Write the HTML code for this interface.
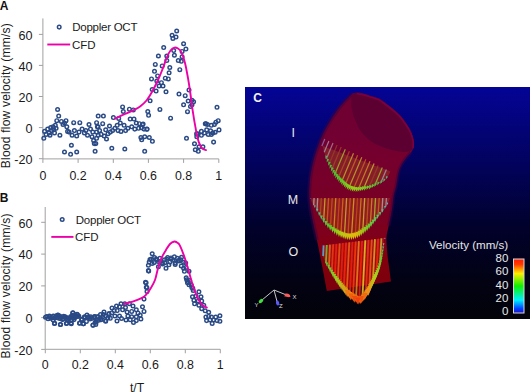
<!DOCTYPE html>
<html><head><meta charset="utf-8"><style>
html,body{margin:0;padding:0;background:#fff;}
svg{display:block;font-family:"Liberation Sans",sans-serif;}
</style></head><body>
<svg width="530" height="392" viewBox="0 0 530 392">
<rect width="530" height="392" fill="#fff"/>
<text x="-0.2" y="10.2" font-weight="bold" font-size="12" fill="#111">A</text>
<text transform="translate(9.6 95.6) rotate(-90)" text-anchor="middle" font-size="12" letter-spacing="0.22" fill="#1a1a1a">Blood flow velocity (mm/s)</text>
<path d="M42.9 18.4 V158.9 H218.8" fill="none" stroke="#a0a0a0" stroke-width="1"/>
<path d="M38.9 34.4 H42.9" stroke="#a0a0a0" stroke-width="1"/>
<text x="32.4" y="39.6" text-anchor="end" font-size="12.6" fill="#1a1a1a">60</text>
<path d="M38.9 65.4 H42.9" stroke="#a0a0a0" stroke-width="1"/>
<text x="32.4" y="70.6" text-anchor="end" font-size="12.6" fill="#1a1a1a">40</text>
<path d="M38.9 96.5 H42.9" stroke="#a0a0a0" stroke-width="1"/>
<text x="32.4" y="101.7" text-anchor="end" font-size="12.6" fill="#1a1a1a">20</text>
<path d="M38.9 127.6 H42.9" stroke="#a0a0a0" stroke-width="1"/>
<text x="32.4" y="132.8" text-anchor="end" font-size="12.6" fill="#1a1a1a">0</text>
<path d="M38.9 158.7 H42.9" stroke="#a0a0a0" stroke-width="1"/>
<text x="32.4" y="163.9" text-anchor="end" font-size="12.6" fill="#1a1a1a">-20</text>
<path d="M42.9 158.9 V162.9" stroke="#a0a0a0" stroke-width="1"/>
<text x="42.9" y="180.2" text-anchor="middle" font-size="12.4" fill="#1a1a1a">0</text>
<path d="M78.1 158.9 V162.9" stroke="#a0a0a0" stroke-width="1"/>
<text x="78.1" y="180.2" text-anchor="middle" font-size="12.4" fill="#1a1a1a">0.2</text>
<path d="M113.3 158.9 V162.9" stroke="#a0a0a0" stroke-width="1"/>
<text x="113.3" y="180.2" text-anchor="middle" font-size="12.4" fill="#1a1a1a">0.4</text>
<path d="M148.4 158.9 V162.9" stroke="#a0a0a0" stroke-width="1"/>
<text x="148.4" y="180.2" text-anchor="middle" font-size="12.4" fill="#1a1a1a">0.6</text>
<path d="M183.6 158.9 V162.9" stroke="#a0a0a0" stroke-width="1"/>
<text x="183.6" y="180.2" text-anchor="middle" font-size="12.4" fill="#1a1a1a">0.8</text>
<path d="M218.8 158.9 V162.9" stroke="#a0a0a0" stroke-width="1"/>
<text x="218.8" y="180.2" text-anchor="middle" font-size="12.4" fill="#1a1a1a">1</text>
<g fill="none" stroke="#2a4a86" stroke-width="1.45">
<circle cx="57.6" cy="109.5" r="1.8"/>
<circle cx="58.7" cy="116.1" r="1.8"/>
<circle cx="56.8" cy="120.7" r="1.8"/>
<circle cx="43.8" cy="138.3" r="1.8"/>
<circle cx="44.6" cy="131.4" r="1.8"/>
<circle cx="46.1" cy="134.4" r="1.8"/>
<circle cx="47.7" cy="129.1" r="1.8"/>
<circle cx="49.2" cy="132.9" r="1.8"/>
<circle cx="50.7" cy="127.6" r="1.8"/>
<circle cx="51.5" cy="130.6" r="1.8"/>
<circle cx="50.0" cy="135.2" r="1.8"/>
<circle cx="53.0" cy="126.8" r="1.8"/>
<circle cx="53.8" cy="129.8" r="1.8"/>
<circle cx="54.5" cy="132.9" r="1.8"/>
<circle cx="55.3" cy="125.3" r="1.8"/>
<circle cx="56.1" cy="128.3" r="1.8"/>
<circle cx="59.9" cy="135.2" r="1.8"/>
<circle cx="61.4" cy="121.4" r="1.8"/>
<circle cx="63.0" cy="124.5" r="1.8"/>
<circle cx="64.5" cy="123.0" r="1.8"/>
<circle cx="66.0" cy="120.7" r="1.8"/>
<circle cx="66.8" cy="126.8" r="1.8"/>
<circle cx="67.6" cy="131.4" r="1.8"/>
<circle cx="69.1" cy="132.1" r="1.8"/>
<circle cx="71.4" cy="145.2" r="1.8"/>
<circle cx="64.5" cy="152.0" r="1.8"/>
<circle cx="70.6" cy="154.3" r="1.8"/>
<circle cx="76.7" cy="152.0" r="1.8"/>
<circle cx="73.7" cy="122.7" r="1.8"/>
<circle cx="79.8" cy="122.7" r="1.8"/>
<circle cx="72.1" cy="135.2" r="1.8"/>
<circle cx="74.4" cy="130.6" r="1.8"/>
<circle cx="76.7" cy="136.0" r="1.8"/>
<circle cx="79.0" cy="132.1" r="1.8"/>
<circle cx="82.1" cy="129.1" r="1.8"/>
<circle cx="84.4" cy="132.9" r="1.8"/>
<circle cx="85.9" cy="130.6" r="1.8"/>
<circle cx="87.5" cy="135.2" r="1.8"/>
<circle cx="89.0" cy="124.5" r="1.8"/>
<circle cx="90.5" cy="129.1" r="1.8"/>
<circle cx="92.8" cy="132.1" r="1.8"/>
<circle cx="92.0" cy="136.7" r="1.8"/>
<circle cx="93.6" cy="140.6" r="1.8"/>
<circle cx="94.3" cy="143.6" r="1.8"/>
<circle cx="95.1" cy="151.3" r="1.8"/>
<circle cx="96.6" cy="122.7" r="1.8"/>
<circle cx="98.2" cy="116.1" r="1.8"/>
<circle cx="97.4" cy="126.8" r="1.8"/>
<circle cx="98.2" cy="135.2" r="1.8"/>
<circle cx="96.6" cy="138.3" r="1.8"/>
<circle cx="103.4" cy="116.1" r="1.8"/>
<circle cx="102.7" cy="123.7" r="1.8"/>
<circle cx="98.1" cy="126.8" r="1.8"/>
<circle cx="99.6" cy="130.6" r="1.8"/>
<circle cx="96.5" cy="132.1" r="1.8"/>
<circle cx="101.1" cy="134.4" r="1.8"/>
<circle cx="105.7" cy="129.8" r="1.8"/>
<circle cx="109.5" cy="126.0" r="1.8"/>
<circle cx="104.2" cy="136.0" r="1.8"/>
<circle cx="106.5" cy="139.0" r="1.8"/>
<circle cx="95.8" cy="143.6" r="1.8"/>
<circle cx="111.8" cy="148.2" r="1.8"/>
<circle cx="124.8" cy="149.0" r="1.8"/>
<circle cx="144.7" cy="151.3" r="1.8"/>
<circle cx="108.0" cy="133.7" r="1.8"/>
<circle cx="110.3" cy="132.1" r="1.8"/>
<circle cx="112.6" cy="130.6" r="1.8"/>
<circle cx="113.4" cy="117.6" r="1.8"/>
<circle cx="114.9" cy="128.3" r="1.8"/>
<circle cx="117.2" cy="125.3" r="1.8"/>
<circle cx="118.7" cy="118.4" r="1.8"/>
<circle cx="120.3" cy="123.0" r="1.8"/>
<circle cx="118.0" cy="130.6" r="1.8"/>
<circle cx="121.0" cy="131.4" r="1.8"/>
<circle cx="122.6" cy="106.9" r="1.8"/>
<circle cx="123.3" cy="111.5" r="1.8"/>
<circle cx="124.1" cy="125.3" r="1.8"/>
<circle cx="125.6" cy="130.6" r="1.8"/>
<circle cx="127.9" cy="128.3" r="1.8"/>
<circle cx="129.4" cy="109.2" r="1.8"/>
<circle cx="133.3" cy="109.9" r="1.8"/>
<circle cx="130.2" cy="119.1" r="1.8"/>
<circle cx="134.0" cy="119.1" r="1.8"/>
<circle cx="131.7" cy="126.8" r="1.8"/>
<circle cx="134.8" cy="129.1" r="1.8"/>
<circle cx="136.3" cy="123.0" r="1.8"/>
<circle cx="139.4" cy="123.7" r="1.8"/>
<circle cx="138.6" cy="128.3" r="1.8"/>
<circle cx="142.5" cy="124.5" r="1.8"/>
<circle cx="144.0" cy="129.1" r="1.8"/>
<circle cx="147.0" cy="129.1" r="1.8"/>
<circle cx="147.8" cy="111.5" r="1.8"/>
<circle cx="148.6" cy="115.3" r="1.8"/>
<circle cx="140.9" cy="137.5" r="1.8"/>
<circle cx="141.7" cy="139.8" r="1.8"/>
<circle cx="144.7" cy="136.7" r="1.8"/>
<circle cx="149.3" cy="137.5" r="1.8"/>
<circle cx="152.4" cy="141.3" r="1.8"/>
<circle cx="150.1" cy="100.8" r="1.8"/>
<circle cx="176.7" cy="31.0" r="1.8"/>
<circle cx="172.1" cy="35.3" r="1.8"/>
<circle cx="172.9" cy="38.4" r="1.8"/>
<circle cx="176.0" cy="37.1" r="1.8"/>
<circle cx="183.6" cy="43.7" r="1.8"/>
<circle cx="185.9" cy="49.1" r="1.8"/>
<circle cx="182.1" cy="51.4" r="1.8"/>
<circle cx="163.7" cy="47.6" r="1.8"/>
<circle cx="158.4" cy="56.0" r="1.8"/>
<circle cx="166.8" cy="56.0" r="1.8"/>
<circle cx="173.7" cy="50.6" r="1.8"/>
<circle cx="174.4" cy="55.2" r="1.8"/>
<circle cx="182.1" cy="56.7" r="1.8"/>
<circle cx="178.3" cy="60.6" r="1.8"/>
<circle cx="181.3" cy="61.3" r="1.8"/>
<circle cx="166.8" cy="60.6" r="1.8"/>
<circle cx="155.3" cy="64.4" r="1.8"/>
<circle cx="162.2" cy="65.9" r="1.8"/>
<circle cx="169.8" cy="67.5" r="1.8"/>
<circle cx="179.8" cy="69.7" r="1.8"/>
<circle cx="154.5" cy="71.3" r="1.8"/>
<circle cx="169.1" cy="72.8" r="1.8"/>
<circle cx="157.6" cy="75.9" r="1.8"/>
<circle cx="151.5" cy="78.9" r="1.8"/>
<circle cx="165.3" cy="78.2" r="1.8"/>
<circle cx="168.3" cy="78.9" r="1.8"/>
<circle cx="156.8" cy="81.1" r="1.8"/>
<circle cx="161.4" cy="82.7" r="1.8"/>
<circle cx="159.1" cy="86.0" r="1.8"/>
<circle cx="163.0" cy="86.0" r="1.8"/>
<circle cx="152.2" cy="89.5" r="1.8"/>
<circle cx="156.1" cy="91.1" r="1.8"/>
<circle cx="166.0" cy="91.8" r="1.8"/>
<circle cx="159.9" cy="109.4" r="1.8"/>
<circle cx="170.6" cy="118.2" r="1.8"/>
<circle cx="179.0" cy="94.1" r="1.8"/>
<circle cx="185.2" cy="95.7" r="1.8"/>
<circle cx="189.0" cy="90.0" r="1.8"/>
<circle cx="188.2" cy="101.0" r="1.8"/>
<circle cx="192.0" cy="100.3" r="1.8"/>
<circle cx="193.6" cy="101.8" r="1.8"/>
<circle cx="183.6" cy="104.8" r="1.8"/>
<circle cx="190.5" cy="106.4" r="1.8"/>
<circle cx="192.0" cy="104.8" r="1.8"/>
<circle cx="187.5" cy="111.7" r="1.8"/>
<circle cx="143.1" cy="124.0" r="1.8"/>
<circle cx="141.5" cy="127.8" r="1.8"/>
<circle cx="146.9" cy="129.3" r="1.8"/>
<circle cx="196.6" cy="133.9" r="1.8"/>
<circle cx="186.5" cy="138.3" r="1.8"/>
<circle cx="194.5" cy="143.7" r="1.8"/>
<circle cx="196.8" cy="136.8" r="1.8"/>
<circle cx="197.6" cy="133.7" r="1.8"/>
<circle cx="201.4" cy="135.3" r="1.8"/>
<circle cx="199.1" cy="146.7" r="1.8"/>
<circle cx="202.9" cy="146.7" r="1.8"/>
<circle cx="195.3" cy="149.8" r="1.8"/>
<circle cx="198.3" cy="151.3" r="1.8"/>
<circle cx="201.4" cy="131.4" r="1.8"/>
<circle cx="204.4" cy="133.0" r="1.8"/>
<circle cx="206.0" cy="123.8" r="1.8"/>
<circle cx="207.5" cy="124.5" r="1.8"/>
<circle cx="211.3" cy="125.3" r="1.8"/>
<circle cx="214.4" cy="124.5" r="1.8"/>
<circle cx="215.9" cy="122.2" r="1.8"/>
<circle cx="218.2" cy="120.7" r="1.8"/>
<circle cx="206.7" cy="129.9" r="1.8"/>
<circle cx="210.6" cy="130.7" r="1.8"/>
<circle cx="212.9" cy="133.0" r="1.8"/>
<circle cx="215.2" cy="132.2" r="1.8"/>
<circle cx="219.0" cy="129.9" r="1.8"/>
<circle cx="208.3" cy="134.5" r="1.8"/>
<circle cx="211.3" cy="134.5" r="1.8"/>
<circle cx="213.6" cy="142.1" r="1.8"/>
<circle cx="217.0" cy="107.3" r="1.8"/>
<circle cx="205.3" cy="123.7" r="1.8"/>
</g>
<path d="M115.0 118.6 C116.7 117.8 121.7 115.5 125.0 114.0 C128.3 112.5 132.5 110.8 135.0 109.5 C137.5 108.2 138.1 108.0 140.0 106.5 C141.9 105.0 144.4 103.1 146.5 100.5 C148.6 97.9 150.6 94.4 152.5 91.0 C154.4 87.6 156.3 83.7 158.0 80.0 C159.7 76.3 161.1 72.8 162.6 69.0 C164.1 65.2 165.5 60.6 166.8 57.5 C168.1 54.4 169.2 52.1 170.5 50.5 C171.8 48.9 173.2 47.9 174.4 47.6 C175.7 47.3 176.8 47.8 178.0 48.5 C179.2 49.2 180.1 49.7 181.3 52.1 C182.5 54.5 183.9 58.5 185.0 62.9 C186.1 67.2 187.2 73.7 188.0 78.2 C188.8 82.7 189.1 84.7 189.9 90.0 C190.7 95.3 191.6 103.3 192.6 110.2 C193.6 117.1 195.2 126.1 196.2 131.4 C197.2 136.7 197.8 139.3 198.8 142.1 C199.8 144.9 200.9 147.0 202.1 148.3 C203.3 149.6 205.3 149.8 206.0 150.1" fill="none" stroke="#ec00a8" stroke-width="1.9" stroke-linecap="round"/>
<circle cx="59.2" cy="27.1" r="1.8" fill="none" stroke="#2a4a86" stroke-width="1.45"/>
<text x="72.2" y="31.1" font-size="11.5" letter-spacing="-0.25" fill="#1a1a1a">Doppler OCT</text>
<path d="M47.3 44.5 H70.2" stroke="#ec00a8" stroke-width="1.9"/>
<text x="72.0" y="48.5" font-size="11.5" letter-spacing="-0.1" fill="#1a1a1a">CFD</text>
<text x="-0.2" y="202.3" font-weight="bold" font-size="12" fill="#111">B</text>
<text transform="translate(9.6 285.9) rotate(-90)" text-anchor="middle" font-size="12" letter-spacing="0.22" fill="#1a1a1a">Blood flow velocity (mm/s)</text>
<path d="M45.2 207.0 V349.3 H220.3" fill="none" stroke="#a0a0a0" stroke-width="1"/>
<path d="M41.2 222.3 H45.2" stroke="#a0a0a0" stroke-width="1"/>
<text x="32.4" y="227.5" text-anchor="end" font-size="12.6" fill="#1a1a1a">60</text>
<path d="M41.2 254.1 H45.2" stroke="#a0a0a0" stroke-width="1"/>
<text x="32.4" y="259.3" text-anchor="end" font-size="12.6" fill="#1a1a1a">40</text>
<path d="M41.2 285.9 H45.2" stroke="#a0a0a0" stroke-width="1"/>
<text x="32.4" y="291.1" text-anchor="end" font-size="12.6" fill="#1a1a1a">20</text>
<path d="M41.2 317.6 H45.2" stroke="#a0a0a0" stroke-width="1"/>
<text x="32.4" y="322.8" text-anchor="end" font-size="12.6" fill="#1a1a1a">0</text>
<path d="M41.2 349.4 H45.2" stroke="#a0a0a0" stroke-width="1"/>
<text x="32.4" y="354.6" text-anchor="end" font-size="12.6" fill="#1a1a1a">-20</text>
<path d="M45.3 349.3 V353.3" stroke="#a0a0a0" stroke-width="1"/>
<text x="45.3" y="368.5" text-anchor="middle" font-size="12.4" fill="#1a1a1a">0</text>
<path d="M80.3 349.3 V353.3" stroke="#a0a0a0" stroke-width="1"/>
<text x="80.3" y="368.5" text-anchor="middle" font-size="12.4" fill="#1a1a1a">0.2</text>
<path d="M115.3 349.3 V353.3" stroke="#a0a0a0" stroke-width="1"/>
<text x="115.3" y="368.5" text-anchor="middle" font-size="12.4" fill="#1a1a1a">0.4</text>
<path d="M150.3 349.3 V353.3" stroke="#a0a0a0" stroke-width="1"/>
<text x="150.3" y="368.5" text-anchor="middle" font-size="12.4" fill="#1a1a1a">0.6</text>
<path d="M185.3 349.3 V353.3" stroke="#a0a0a0" stroke-width="1"/>
<text x="185.3" y="368.5" text-anchor="middle" font-size="12.4" fill="#1a1a1a">0.8</text>
<path d="M220.3 349.3 V353.3" stroke="#a0a0a0" stroke-width="1"/>
<text x="220.3" y="368.5" text-anchor="middle" font-size="12.4" fill="#1a1a1a">1</text>
<g fill="none" stroke="#2a4a86" stroke-width="1.45">
<circle cx="73.0" cy="312.7" r="1.8"/>
<circle cx="77.0" cy="314.3" r="1.8"/>
<circle cx="57.9" cy="314.9" r="1.8"/>
<circle cx="54.7" cy="323.2" r="1.8"/>
<circle cx="60.4" cy="324.5" r="1.8"/>
<circle cx="66.8" cy="323.2" r="1.8"/>
<circle cx="71.3" cy="323.8" r="1.8"/>
<circle cx="79.6" cy="323.2" r="1.8"/>
<circle cx="83.4" cy="323.8" r="1.8"/>
<circle cx="93.0" cy="325.1" r="1.8"/>
<circle cx="96.2" cy="322.0" r="1.8"/>
<circle cx="94.9" cy="316.8" r="1.8"/>
<circle cx="84.7" cy="316.8" r="1.8"/>
<circle cx="145.5" cy="282.3" r="1.8"/>
<circle cx="146.3" cy="287.3" r="1.8"/>
<circle cx="147.0" cy="291.5" r="1.8"/>
<circle cx="144.0" cy="299.1" r="1.8"/>
<circle cx="142.5" cy="306.8" r="1.8"/>
<circle cx="144.0" cy="311.4" r="1.8"/>
<circle cx="129.4" cy="303.7" r="1.8"/>
<circle cx="124.8" cy="303.7" r="1.8"/>
<circle cx="121.0" cy="303.7" r="1.8"/>
<circle cx="119.5" cy="306.8" r="1.8"/>
<circle cx="122.6" cy="309.8" r="1.8"/>
<circle cx="127.1" cy="312.1" r="1.8"/>
<circle cx="131.7" cy="311.4" r="1.8"/>
<circle cx="136.3" cy="309.8" r="1.8"/>
<circle cx="117.2" cy="310.6" r="1.8"/>
<circle cx="114.1" cy="310.6" r="1.8"/>
<circle cx="111.8" cy="312.9" r="1.8"/>
<circle cx="119.5" cy="316.0" r="1.8"/>
<circle cx="127.9" cy="316.0" r="1.8"/>
<circle cx="131.7" cy="316.7" r="1.8"/>
<circle cx="136.3" cy="316.7" r="1.8"/>
<circle cx="140.2" cy="315.2" r="1.8"/>
<circle cx="130.2" cy="319.8" r="1.8"/>
<circle cx="136.3" cy="320.6" r="1.8"/>
<circle cx="140.9" cy="319.0" r="1.8"/>
<circle cx="108.8" cy="314.4" r="1.8"/>
<circle cx="105.7" cy="316.0" r="1.8"/>
<circle cx="102.7" cy="316.7" r="1.8"/>
<circle cx="98.1" cy="316.7" r="1.8"/>
<circle cx="96.5" cy="319.8" r="1.8"/>
<circle cx="101.1" cy="319.8" r="1.8"/>
<circle cx="105.7" cy="321.3" r="1.8"/>
<circle cx="110.3" cy="318.3" r="1.8"/>
<circle cx="114.9" cy="316.0" r="1.8"/>
<circle cx="95.8" cy="324.4" r="1.8"/>
<circle cx="148.7" cy="271.1" r="1.8"/>
<circle cx="152.2" cy="253.7" r="1.8"/>
<circle cx="148.4" cy="270.6" r="1.8"/>
<circle cx="148.4" cy="265.2" r="1.8"/>
<circle cx="149.2" cy="262.1" r="1.8"/>
<circle cx="151.5" cy="259.1" r="1.8"/>
<circle cx="154.5" cy="257.6" r="1.8"/>
<circle cx="156.8" cy="259.8" r="1.8"/>
<circle cx="158.4" cy="266.7" r="1.8"/>
<circle cx="159.9" cy="258.3" r="1.8"/>
<circle cx="162.2" cy="262.9" r="1.8"/>
<circle cx="164.5" cy="259.8" r="1.8"/>
<circle cx="166.0" cy="268.3" r="1.8"/>
<circle cx="167.6" cy="257.6" r="1.8"/>
<circle cx="169.8" cy="262.1" r="1.8"/>
<circle cx="171.4" cy="259.1" r="1.8"/>
<circle cx="174.4" cy="256.8" r="1.8"/>
<circle cx="175.2" cy="264.4" r="1.8"/>
<circle cx="178.3" cy="260.6" r="1.8"/>
<circle cx="180.6" cy="259.8" r="1.8"/>
<circle cx="181.3" cy="266.0" r="1.8"/>
<circle cx="183.6" cy="268.3" r="1.8"/>
<circle cx="184.4" cy="271.3" r="1.8"/>
<circle cx="185.9" cy="267.5" r="1.8"/>
<circle cx="189.0" cy="271.3" r="1.8"/>
<circle cx="146.1" cy="282.8" r="1.8"/>
<circle cx="146.9" cy="287.4" r="1.8"/>
<circle cx="186.7" cy="279.7" r="1.8"/>
<circle cx="187.5" cy="282.8" r="1.8"/>
<circle cx="189.7" cy="280.5" r="1.8"/>
<circle cx="191.3" cy="285.1" r="1.8"/>
<circle cx="192.8" cy="288.2" r="1.8"/>
<circle cx="186.2" cy="277.8" r="1.8"/>
<circle cx="187.6" cy="281.3" r="1.8"/>
<circle cx="189.0" cy="284.8" r="1.8"/>
<circle cx="191.8" cy="287.6" r="1.8"/>
<circle cx="193.2" cy="290.4" r="1.8"/>
<circle cx="198.9" cy="291.8" r="1.8"/>
<circle cx="192.5" cy="296.7" r="1.8"/>
<circle cx="196.0" cy="296.0" r="1.8"/>
<circle cx="201.0" cy="296.7" r="1.8"/>
<circle cx="193.9" cy="300.3" r="1.8"/>
<circle cx="198.2" cy="301.0" r="1.8"/>
<circle cx="201.7" cy="301.0" r="1.8"/>
<circle cx="194.6" cy="303.8" r="1.8"/>
<circle cx="198.9" cy="305.2" r="1.8"/>
<circle cx="203.8" cy="305.2" r="1.8"/>
<circle cx="201.7" cy="308.7" r="1.8"/>
<circle cx="205.2" cy="310.8" r="1.8"/>
<circle cx="208.7" cy="312.2" r="1.8"/>
<circle cx="205.9" cy="317.1" r="1.8"/>
<circle cx="208.7" cy="316.4" r="1.8"/>
<circle cx="211.5" cy="317.1" r="1.8"/>
<circle cx="215.7" cy="317.1" r="1.8"/>
<circle cx="219.9" cy="315.7" r="1.8"/>
<circle cx="206.6" cy="320.6" r="1.8"/>
<circle cx="210.1" cy="319.9" r="1.8"/>
<circle cx="213.6" cy="319.9" r="1.8"/>
<circle cx="217.1" cy="320.6" r="1.8"/>
<circle cx="212.2" cy="323.4" r="1.8"/>
<circle cx="219.9" cy="321.3" r="1.8"/>
<circle cx="72.7" cy="313.0" r="1.8"/>
<circle cx="77.3" cy="314.5" r="1.8"/>
<circle cx="70.8" cy="316.4" r="1.8"/>
<circle cx="74.2" cy="318.0" r="1.8"/>
<circle cx="71.1" cy="323.0" r="1.8"/>
<circle cx="79.6" cy="323.0" r="1.8"/>
<circle cx="83.4" cy="323.7" r="1.8"/>
<circle cx="81.5" cy="319.9" r="1.8"/>
<circle cx="84.2" cy="317.2" r="1.8"/>
<circle cx="88.4" cy="317.6" r="1.8"/>
<circle cx="93.0" cy="325.2" r="1.8"/>
<circle cx="95.2" cy="322.2" r="1.8"/>
<circle cx="94.5" cy="316.4" r="1.8"/>
<circle cx="97.2" cy="316.8" r="1.8"/>
<circle cx="98.7" cy="320.3" r="1.8"/>
<circle cx="103.3" cy="314.5" r="1.8"/>
<circle cx="100.6" cy="318.4" r="1.8"/>
<circle cx="105.6" cy="320.7" r="1.8"/>
<circle cx="107.9" cy="318.0" r="1.8"/>
<circle cx="109.0" cy="313.4" r="1.8"/>
<circle cx="90.7" cy="316.8" r="1.8"/>
<circle cx="86.4" cy="321.4" r="1.8"/>
<circle cx="54.4" cy="323.5" r="1.8"/>
<circle cx="60.5" cy="324.5" r="1.8"/>
<circle cx="66.3" cy="323.5" r="1.8"/>
<circle cx="58.0" cy="315.2" r="1.8"/>
<circle cx="45.5" cy="317.2" r="1.8"/>
<circle cx="46.8" cy="316.4" r="1.8"/>
<circle cx="48.1" cy="318.7" r="1.8"/>
<circle cx="49.4" cy="316.0" r="1.8"/>
<circle cx="50.7" cy="318.2" r="1.8"/>
<circle cx="52.0" cy="317.4" r="1.8"/>
<circle cx="53.3" cy="316.0" r="1.8"/>
<circle cx="54.6" cy="318.0" r="1.8"/>
<circle cx="55.9" cy="315.9" r="1.8"/>
<circle cx="57.2" cy="317.7" r="1.8"/>
<circle cx="58.5" cy="316.0" r="1.8"/>
<circle cx="59.8" cy="316.1" r="1.8"/>
<circle cx="61.1" cy="317.7" r="1.8"/>
<circle cx="62.4" cy="319.5" r="1.8"/>
<circle cx="63.7" cy="316.3" r="1.8"/>
<circle cx="65.0" cy="316.7" r="1.8"/>
<circle cx="66.3" cy="318.6" r="1.8"/>
<circle cx="67.6" cy="320.1" r="1.8"/>
<circle cx="68.9" cy="318.4" r="1.8"/>
<circle cx="70.2" cy="317.5" r="1.8"/>
<circle cx="71.5" cy="320.2" r="1.8"/>
<circle cx="72.8" cy="315.9" r="1.8"/>
<circle cx="74.1" cy="319.6" r="1.8"/>
<circle cx="75.4" cy="317.0" r="1.8"/>
<circle cx="76.7" cy="316.4" r="1.8"/>
<circle cx="78.0" cy="316.2" r="1.8"/>
<circle cx="50.0" cy="316.8" r="1.8"/>
<circle cx="53.2" cy="320.0" r="1.8"/>
<circle cx="56.4" cy="316.0" r="1.8"/>
<circle cx="59.6" cy="318.5" r="1.8"/>
<circle cx="62.8" cy="318.9" r="1.8"/>
<circle cx="66.0" cy="317.2" r="1.8"/>
<circle cx="69.2" cy="318.3" r="1.8"/>
<circle cx="72.4" cy="315.2" r="1.8"/>
<circle cx="75.6" cy="315.2" r="1.8"/>
<circle cx="78.8" cy="316.1" r="1.8"/>
<circle cx="82.0" cy="319.2" r="1.8"/>
<circle cx="85.2" cy="317.5" r="1.8"/>
<circle cx="88.4" cy="316.8" r="1.8"/>
<circle cx="91.6" cy="318.5" r="1.8"/>
<circle cx="94.8" cy="317.7" r="1.8"/>
<circle cx="112.0" cy="308.0" r="1.8"/>
<circle cx="116.5" cy="306.0" r="1.8"/>
<circle cx="125.5" cy="307.5" r="1.8"/>
<circle cx="133.0" cy="306.0" r="1.8"/>
<circle cx="138.0" cy="313.0" r="1.8"/>
<circle cx="126.0" cy="320.0" r="1.8"/>
<circle cx="121.5" cy="318.5" r="1.8"/>
<circle cx="117.0" cy="321.0" r="1.8"/>
<circle cx="133.5" cy="322.5" r="1.8"/>
<circle cx="104.0" cy="312.0" r="1.8"/>
<circle cx="100.5" cy="314.5" r="1.8"/>
<circle cx="90.0" cy="319.0" r="1.8"/>
<circle cx="87.0" cy="315.0" r="1.8"/>
<circle cx="150.0" cy="259.4" r="1.8"/>
<circle cx="152.1" cy="263.4" r="1.8"/>
<circle cx="154.2" cy="262.6" r="1.8"/>
<circle cx="156.3" cy="259.0" r="1.8"/>
<circle cx="158.4" cy="261.6" r="1.8"/>
<circle cx="160.5" cy="261.2" r="1.8"/>
<circle cx="162.6" cy="264.0" r="1.8"/>
<circle cx="164.7" cy="262.8" r="1.8"/>
<circle cx="166.8" cy="259.3" r="1.8"/>
<circle cx="168.9" cy="264.8" r="1.8"/>
<circle cx="171.0" cy="257.9" r="1.8"/>
<circle cx="173.1" cy="260.3" r="1.8"/>
<circle cx="175.2" cy="263.1" r="1.8"/>
<circle cx="177.3" cy="258.2" r="1.8"/>
<circle cx="179.4" cy="260.9" r="1.8"/>
<circle cx="181.5" cy="257.3" r="1.8"/>
<circle cx="183.6" cy="262.3" r="1.8"/>
<circle cx="185.7" cy="263.1" r="1.8"/>
</g>
<path d="M124.0 304.0 C125.5 303.6 130.5 302.3 133.3 301.4 C136.1 300.5 138.9 299.4 140.9 298.4 C142.9 297.4 144.0 296.8 145.5 295.3 C147.0 293.8 148.5 291.8 150.1 289.2 C151.7 286.6 153.6 283.8 155.0 280.0 C156.4 276.2 157.2 270.5 158.4 266.7 C159.6 262.9 160.7 259.8 162.0 257.0 C163.3 254.2 164.7 252.1 166.0 249.9 C167.3 247.7 168.6 245.4 170.0 244.0 C171.4 242.6 173.2 241.8 174.4 241.5 C175.6 241.2 176.1 241.9 177.0 242.5 C177.9 243.1 178.5 242.7 179.8 245.3 C181.1 247.9 183.4 253.9 184.8 258.0 C186.2 262.1 187.0 265.3 188.4 270.0 C189.8 274.7 191.4 281.2 193.0 286.0 C194.6 290.8 196.6 295.8 198.2 299.0 C199.8 302.2 200.9 303.6 202.3 305.0 C203.7 306.4 206.1 307.2 206.8 307.6" fill="none" stroke="#ec00a8" stroke-width="1.9" stroke-linecap="round"/>
<circle cx="62.2" cy="219.5" r="1.8" fill="none" stroke="#2a4a86" stroke-width="1.45"/>
<text x="75.8" y="223.5" font-size="11.5" letter-spacing="-0.25" fill="#1a1a1a">Doppler OCT</text>
<path d="M51.3 236.9 H73.5" stroke="#ec00a8" stroke-width="1.9"/>
<text x="75.1" y="240.9" font-size="11.5" letter-spacing="-0.1" fill="#1a1a1a">CFD</text>
<text x="129.9" y="391.8" font-size="12.2" fill="#1a1a1a">t/T</text>
<defs>
<linearGradient id="bg" x1="0" y1="0" x2="0" y2="1">
<stop offset="0" stop-color="#040496"/>
<stop offset="0.35" stop-color="#02025a"/>
<stop offset="0.6" stop-color="#01012c"/>
<stop offset="0.85" stop-color="#020212"/>
<stop offset="1" stop-color="#03030a"/>
</linearGradient>
<linearGradient id="cbar" x1="0" y1="0" x2="0" y2="1">
<stop offset="0" stop-color="#ff1a00"/>
<stop offset="0.1" stop-color="#ff3a00"/>
<stop offset="0.27" stop-color="#fff000"/>
<stop offset="0.5" stop-color="#10f000"/>
<stop offset="0.76" stop-color="#00f0ff"/>
<stop offset="0.92" stop-color="#0040ff"/>
<stop offset="1" stop-color="#2010c8"/>
</linearGradient>
<linearGradient id="tube" x1="0" y1="0" x2="1" y2="0">
<stop offset="0" stop-color="#9a0c3c"/>
<stop offset="0.2" stop-color="#a8103c"/>
<stop offset="1" stop-color="#8a0834"/>
</linearGradient>
</defs>
<rect x="245" y="87" width="285" height="232" fill="url(#bg)"/>
<filter id="soft" x="-5%" y="-5%" width="110%" height="110%"><feGaussianBlur stdDeviation="0.45"/></filter>
<g filter="url(#soft)">
<linearGradient id="tubeg" gradientUnits="userSpaceOnUse" x1="0" y1="90" x2="0" y2="290"><stop offset="0" stop-color="#6e0034"/><stop offset="0.35" stop-color="#74002e"/><stop offset="0.65" stop-color="#7a0022"/><stop offset="0.8" stop-color="#840012"/><stop offset="1" stop-color="#7c000c"/></linearGradient>
<path d="M352.5 93.6 C353.4 93.5 355.6 92.8 357.6 92.8 C359.6 92.8 361.9 93.3 364.4 93.9 C366.9 94.5 370.0 95.7 372.4 96.5 C374.8 97.3 376.7 97.4 379.0 98.6 C381.3 99.8 383.2 101.4 386.0 103.5 C388.8 105.6 393.1 109.0 395.7 111.2 C398.3 113.5 399.7 114.9 401.5 117.0 C403.3 119.1 405.0 121.6 406.4 123.7 C407.8 125.8 408.9 127.4 410.0 129.5 C411.1 131.6 412.1 134.1 412.7 136.2 C413.3 138.3 413.8 140.1 413.9 142.0 C414.0 143.9 414.1 145.8 413.6 147.5 C413.1 149.2 412.2 150.8 411.0 152.5 C409.8 154.2 408.1 155.4 406.5 157.5 C404.9 159.6 402.8 162.3 401.4 164.9 C400.0 167.5 399.2 169.7 398.4 173.1 C397.5 176.5 397.1 181.5 396.3 185.3 C395.5 189.1 394.4 191.8 393.6 196.0 C392.9 200.2 392.6 205.4 391.8 210.3 C391.0 215.2 389.7 221.0 388.8 225.6 C387.9 230.2 386.7 233.1 386.5 238.0 C386.3 242.9 387.1 250.0 387.5 255.0 C387.9 260.0 388.6 263.6 389.2 268.0 C389.8 272.4 390.7 279.2 391.0 281.5 L326.8 291.0 C326.6 289.6 325.9 286.3 325.3 282.9 C324.7 279.5 323.9 275.2 323.0 270.6 C322.1 266.0 321.0 260.4 320.0 255.3 C319.0 250.2 317.9 244.9 316.9 240.0 C315.9 235.1 314.8 230.9 313.8 226.0 C312.8 221.1 311.5 215.7 310.7 210.6 C309.9 205.5 309.3 200.4 309.2 195.3 C309.1 190.2 309.6 184.6 310.0 180.0 C310.4 175.4 311.1 171.8 311.8 168.0 C312.6 164.2 313.4 160.8 314.5 157.0 C315.6 153.2 317.1 148.8 318.5 145.0 C319.9 141.2 321.2 137.8 323.0 134.0 C324.8 130.2 327.2 125.8 329.5 122.0 C331.8 118.2 334.4 114.3 336.8 111.0 C339.2 107.7 342.0 104.3 344.0 102.0 C346.0 99.7 347.6 98.4 349.0 97.0 C350.4 95.6 351.9 94.2 352.5 93.6 Z" fill="url(#tubeg)"/>
<path d="M316.9 240.0 C316.4 237.7 314.8 230.9 313.8 226.0 C312.8 221.1 311.5 215.7 310.7 210.6 C309.9 205.5 309.3 200.4 309.2 195.3 C309.1 190.2 309.6 184.6 310.0 180.0 C310.4 175.4 311.1 171.8 311.8 168.0 C312.6 164.2 313.4 160.8 314.5 157.0 C315.6 153.2 317.1 148.8 318.5 145.0 C319.9 141.2 321.2 137.8 323.0 134.0 C324.8 130.2 327.2 125.8 329.5 122.0 C331.8 118.2 334.4 114.3 336.8 111.0 C339.2 107.7 342.0 104.3 344.0 102.0 C346.0 99.7 347.6 98.4 349.0 97.0 C350.4 95.6 351.9 94.2 352.5 93.6" fill="none" stroke="#3a0040" stroke-width="4" stroke-opacity="0.5"/>
<path d="M411.0 152.5 C410.2 153.3 408.1 155.4 406.5 157.5 C404.9 159.6 402.8 162.3 401.4 164.9 C400.0 167.5 399.2 169.7 398.4 173.1 C397.5 176.5 397.1 181.5 396.3 185.3 C395.5 189.1 394.4 191.8 393.6 196.0 C392.9 200.2 392.6 205.4 391.8 210.3 C391.0 215.2 389.3 223.1 388.8 225.6" fill="none" stroke="#3a0040" stroke-width="3.4" stroke-opacity="0.45"/>
<path d="M352.5 93.6 C353.4 93.5 355.6 92.8 357.6 92.8 C359.6 92.8 361.9 93.3 364.4 93.9 C366.9 94.5 370.0 95.7 372.4 96.5 C374.8 97.3 376.7 97.4 379.0 98.6 C381.3 99.8 383.2 101.4 386.0 103.5 C388.8 105.6 393.1 109.0 395.7 111.2 C398.3 113.5 399.7 114.9 401.5 117.0 C403.3 119.1 405.0 121.6 406.4 123.7 C407.8 125.8 408.9 127.4 410.0 129.5 C411.1 131.6 412.1 134.1 412.7 136.2 C413.3 138.3 413.8 140.1 413.9 142.0 C414.0 143.9 413.7 146.6 413.6 147.5 C413.6 148.4 413.9 147.0 413.6 147.5 C413.3 148.0 413.1 149.6 411.6 150.3 C410.1 151.1 407.7 152.1 404.5 152.0 C401.3 151.9 396.3 151.0 392.2 150.0 C388.1 149.0 383.7 147.6 380.0 146.0 C376.3 144.4 373.2 142.9 370.0 140.5 C366.8 138.1 363.4 134.8 361.0 131.5 C358.6 128.2 357.0 124.4 355.5 121.0 C354.0 117.6 352.9 114.3 352.2 111.0 C351.5 107.7 351.1 103.9 351.2 101.0 C351.2 98.1 352.3 94.8 352.5 93.6 C352.7 92.4 351.6 93.7 352.5 93.6 Z" fill="#5c0030"/>
<path d="M357.6 92.8 C358.7 93.0 361.9 93.3 364.4 93.9 C366.9 94.5 370.0 95.7 372.4 96.5 C374.8 97.3 376.7 97.4 379.0 98.6 C381.3 99.8 383.2 101.4 386.0 103.5 C388.8 105.6 393.1 109.0 395.7 111.2 C398.3 113.5 399.7 114.9 401.5 117.0 C403.3 119.1 405.0 121.6 406.4 123.7 C407.8 125.8 408.9 127.4 410.0 129.5 C411.1 131.6 412.1 134.1 412.7 136.2 C413.3 138.3 413.8 140.1 413.9 142.0 C414.0 143.9 413.7 146.6 413.6 147.5" fill="none" stroke="#900848" stroke-width="1.6" stroke-opacity="0.6" transform="translate(-0.6 1)"/>
<polygon points="322.5,146.0 322.7,146.6 322.9,147.3 323.1,148.2 323.4,149.2 323.7,150.3 324.0,151.4 324.3,152.6 324.7,153.7 325.0,154.7 325.3,155.6 325.6,156.4 325.9,157.2 326.2,158.0 326.5,158.8 326.8,159.5 327.2,160.3 327.5,161.0 327.8,161.7 328.1,162.5 328.5,163.2 328.9,164.0 329.2,164.7 329.6,165.5 330.0,166.3 330.4,167.1 330.8,167.9 331.2,168.6 331.6,169.3 332.0,170.0 332.4,170.7 332.8,171.3 333.1,171.9 333.5,172.5 333.8,173.0 334.1,173.5 334.5,174.0 334.8,174.5 335.2,175.0 335.6,175.5 336.0,176.0 336.4,176.5 336.9,177.0 337.3,177.6 337.8,178.1 338.3,178.6 338.8,179.1 339.3,179.7 339.8,180.2 340.4,180.7 341.0,181.3 341.6,181.9 342.3,182.5 343.0,183.2 343.7,183.8 344.4,184.5 345.2,185.1 345.9,185.7 346.7,186.3 347.5,186.8 348.2,187.3 348.9,187.7 349.7,188.0 350.4,188.4 351.2,188.6 351.9,188.9 352.7,189.1 353.4,189.3 354.2,189.4 354.9,189.5 355.7,189.6 356.5,189.6 357.2,189.6 358.0,189.6 358.8,189.5 359.5,189.4 360.3,189.3 361.1,189.2 361.8,189.1 362.6,188.9 363.3,188.8 364.0,188.7 364.7,188.6 365.4,188.4 366.1,188.3 366.8,188.2 367.4,188.0 368.1,187.9 368.8,187.7 369.4,187.5 370.1,187.3 370.8,187.1 371.5,186.8 372.2,186.5 372.9,186.2 373.6,185.9 374.2,185.6 374.9,185.2 375.6,184.9 376.3,184.6 376.9,184.3 377.5,184.0 378.2,183.7 378.8,183.5 379.4,183.2 380.0,182.9 380.6,182.7 381.2,182.4 381.8,182.0 382.3,181.7 382.9,181.3 383.5,180.9 384.0,180.4 384.6,179.9 385.1,179.3 385.7,178.7 386.2,178.2 386.7,177.6 387.2,177.0 387.6,176.5 388.0,176.0 388.4,175.5 388.7,175.0 389.0,174.4 389.3,173.9 389.6,173.4 389.8,172.9 390.0,172.5 390.2,172.1 390.4,171.8 390.5,171.5" fill="#c08a20" fill-opacity="0.22"/>
<g opacity="0.72">
<path d="M324.8 139.0 L321.9 146.0" stroke="#8c82c8" stroke-width="1.20"/>
<path d="M328.9 141.0 L324.2 152.3" stroke="#aaaabe" stroke-width="1.20"/>
<path d="M333.0 143.1 L326.4 158.8" stroke="#b496a0" stroke-width="1.20"/>
<path d="M337.1 145.1 L329.0 164.3" stroke="#964628" stroke-width="1.20"/>
<path d="M341.2 147.1 L331.8 169.6" stroke="#a05028" stroke-width="1.20"/>
<path d="M345.3 149.2 L334.7 174.4" stroke="#aad228" stroke-width="1.20"/>
<path d="M349.4 151.2 L338.0 178.4" stroke="#b45a1e" stroke-width="1.20"/>
<path d="M353.5 153.2 L341.5 182.0" stroke="#d2be28" stroke-width="1.20"/>
<path d="M357.6 155.2 L345.0 185.2" stroke="#d2781e" stroke-width="1.20"/>
<path d="M361.8 157.3 L348.9 187.8" stroke="#d2be28" stroke-width="1.20"/>
<path d="M365.9 159.3 L353.3 189.3" stroke="#d26e1e" stroke-width="1.20"/>
<path d="M370.0 161.3 L358.0 189.8" stroke="#dca01e" stroke-width="1.20"/>
<path d="M374.1 163.4 L363.4 188.9" stroke="#d2c832" stroke-width="1.20"/>
<path d="M378.2 165.4 L368.7 187.9" stroke="#964628" stroke-width="1.20"/>
<path d="M382.3 167.4 L374.7 185.4" stroke="#a0d232" stroke-width="1.20"/>
<path d="M386.4 169.5 L380.8 182.7" stroke="#aaaabe" stroke-width="1.20"/>
<path d="M390.5 171.5 L390.5 171.5" stroke="#8c82c8" stroke-width="1.20"/>
</g>
<path d="M325.5 155.3 L325.3 158.9 L327.6 156.2 Z" fill="rgb(78,186,82)"/>
<path d="M326.9 158.6 L326.7 162.4 L329.2 159.5 Z" fill="rgb(71,185,59)"/>
<path d="M328.4 161.6 L328.1 165.7 L330.8 162.6 Z" fill="rgb(73,187,57)"/>
<path d="M329.8 164.5 L329.5 168.7 L332.3 165.5 Z" fill="rgb(76,188,54)"/>
<path d="M331.3 167.0 L330.9 171.5 L333.9 168.1 Z" fill="rgb(79,189,51)"/>
<path d="M332.7 169.4 L332.3 174.1 L335.4 170.6 Z" fill="rgb(81,190,49)"/>
<path d="M334.1 171.5 L333.8 176.4 L337.0 172.7 Z" fill="rgb(83,191,47)"/>
<path d="M335.6 173.4 L335.3 178.4 L338.5 174.6 Z" fill="rgb(85,192,45)"/>
<path d="M337.1 175.1 L336.8 180.2 L340.1 176.4 Z" fill="rgb(87,193,43)"/>
<path d="M338.6 176.7 L338.3 181.8 L341.7 177.9 Z" fill="rgb(89,194,41)"/>
<path d="M340.1 178.1 L339.7 183.3 L343.2 179.4 Z" fill="rgb(92,195,40)"/>
<path d="M341.6 179.4 L341.2 184.7 L344.7 180.7 Z" fill="rgb(100,197,38)"/>
<path d="M343.0 180.7 L342.6 186.0 L346.1 182.0 Z" fill="rgb(107,198,36)"/>
<path d="M344.4 181.9 L344.0 187.3 L347.5 183.2 Z" fill="rgb(115,199,34)"/>
<path d="M345.8 183.1 L345.4 188.4 L348.9 184.4 Z" fill="rgb(122,200,32)"/>
<path d="M347.3 184.1 L346.9 189.5 L350.4 185.4 Z" fill="rgb(130,202,30)"/>
<path d="M348.9 184.9 L348.5 190.3 L352.0 186.3 Z" fill="rgb(137,203,28)"/>
<path d="M350.6 185.6 L350.2 191.0 L353.7 186.9 Z" fill="rgb(144,204,26)"/>
<path d="M352.3 186.1 L351.9 191.5 L355.4 187.5 Z" fill="rgb(149,205,25)"/>
<path d="M354.1 186.5 L353.7 191.8 L357.2 187.8 Z" fill="rgb(144,204,27)"/>
<path d="M356.1 186.7 L355.7 191.9 L359.1 188.0 Z" fill="rgb(139,204,29)"/>
<path d="M358.0 186.7 L357.6 191.8 L361.1 187.9 Z" fill="rgb(133,203,31)"/>
<path d="M360.1 186.4 L359.7 191.5 L363.1 187.7 Z" fill="rgb(128,202,33)"/>
<path d="M362.2 186.1 L361.8 191.1 L365.1 187.3 Z" fill="rgb(122,202,35)"/>
<path d="M364.5 185.8 L364.1 190.7 L367.3 187.0 Z" fill="rgb(116,201,38)"/>
<path d="M366.9 185.4 L366.5 190.1 L369.6 186.6 Z" fill="rgb(109,200,40)"/>
<path d="M369.4 184.8 L369.0 189.4 L372.1 185.9 Z" fill="rgb(103,197,46)"/>
<path d="M372.0 183.9 L371.6 188.3 L374.5 185.0 Z" fill="rgb(95,194,51)"/>
<path d="M374.7 182.8 L374.3 187.0 L377.1 183.8 Z" fill="rgb(87,191,57)"/>
<path d="M377.5 181.6 L377.2 185.6 L379.9 182.6 Z" fill="rgb(79,188,63)"/>
<path d="M380.6 180.4 L380.3 184.1 L382.8 181.3 Z" fill="rgb(70,185,71)"/>
<path d="M383.6 178.5 L383.3 182.0 L385.6 179.4 Z" fill="rgb(80,181,100)"/>
<path d="M386.2 176.0 L385.9 179.2 L388.1 176.8 Z" fill="rgb(90,178,130)"/>
<polygon points="311.0,198.5 311.0,198.7 311.1,199.0 311.1,199.2 311.2,199.6 311.2,199.9 311.3,200.3 311.4,200.7 311.6,201.2 311.8,201.7 312.0,202.2 312.3,202.8 312.6,203.4 313.1,204.0 313.5,204.7 313.9,205.5 314.4,206.2 314.9,206.9 315.4,207.6 315.8,208.3 316.2,209.0 316.6,209.6 316.9,210.3 317.3,210.9 317.6,211.5 318.0,212.1 318.3,212.6 318.6,213.2 318.9,213.8 319.3,214.3 319.6,214.9 319.9,215.4 320.2,215.9 320.5,216.4 320.8,216.9 321.1,217.4 321.5,217.9 321.8,218.4 322.2,218.9 322.6,219.4 323.0,220.0 323.5,220.6 324.0,221.3 324.6,222.0 325.1,222.7 325.7,223.4 326.4,224.1 327.0,224.8 327.6,225.5 328.3,226.2 328.9,226.8 329.5,227.4 330.2,228.0 330.9,228.5 331.6,229.0 332.2,229.6 332.9,230.1 333.6,230.5 334.3,231.0 335.0,231.5 335.7,231.9 336.4,232.3 337.1,232.7 337.7,233.1 338.4,233.5 339.1,233.8 339.8,234.1 340.5,234.5 341.1,234.8 341.8,235.0 342.5,235.3 343.2,235.6 343.8,235.8 344.5,236.0 345.2,236.3 345.9,236.5 346.5,236.6 347.2,236.8 347.9,236.9 348.6,237.0 349.3,237.0 350.0,237.0 350.8,236.9 351.5,236.8 352.3,236.7 353.1,236.5 353.9,236.3 354.7,236.1 355.4,235.9 356.2,235.6 356.9,235.3 357.6,235.0 358.3,234.6 359.0,234.2 359.7,233.8 360.4,233.4 361.1,232.9 361.7,232.4 362.4,231.9 363.1,231.5 363.7,231.0 364.3,230.5 365.0,230.1 365.6,229.6 366.2,229.1 366.8,228.7 367.3,228.2 367.9,227.7 368.5,227.1 369.1,226.6 369.7,226.0 370.3,225.4 370.9,224.7 371.5,224.1 372.1,223.4 372.7,222.7 373.3,221.9 373.9,221.2 374.5,220.5 375.0,219.9 375.6,219.2 376.1,218.6 376.7,218.0 377.2,217.4 377.7,216.8 378.2,216.2 378.7,215.6 379.2,215.0 379.7,214.4 380.2,213.8 380.7,213.2 381.2,212.5 381.7,211.9 382.3,211.2 382.8,210.5 383.4,209.8 383.9,209.1 384.4,208.4 384.9,207.7 385.4,207.0 385.8,206.4 386.2,205.8 386.6,205.1 387.0,204.5 387.4,203.8 387.8,203.2 388.1,202.6 388.4,202.0 388.7,201.4 389.0,200.9 389.2,200.5 389.4,200.1 389.5,199.7 389.7,199.4 389.7,199.1 389.8,198.9 389.9,198.7 389.9,198.5 389.9,198.3 390.0,198.1 390.0,198.0" fill="#d07018" fill-opacity="0.25"/>
<g opacity="0.75">
<path d="M310.5 198.0 L310.5 198.5" stroke="#8c78d2" stroke-width="1.30"/>
<path d="M314.1 198.0 L313.7 205.2" stroke="#aabec8" stroke-width="1.30"/>
<path d="M317.7 198.0 L317.0 210.5" stroke="#aab4be" stroke-width="1.30"/>
<path d="M321.3 198.0 L320.3 216.0" stroke="#b45a1e" stroke-width="1.30"/>
<path d="M325.0 198.0 L323.6 221.0" stroke="#dcbe28" stroke-width="1.30"/>
<path d="M328.6 198.0 L326.9 225.0" stroke="#dc6e14" stroke-width="1.30"/>
<path d="M332.2 198.0 L330.4 228.2" stroke="#d25a14" stroke-width="1.30"/>
<path d="M335.8 198.0 L333.8 230.8" stroke="#e6a01e" stroke-width="1.30"/>
<path d="M339.4 198.0 L337.3 233.0" stroke="#d25014" stroke-width="1.30"/>
<path d="M343.0 198.0 L340.8 234.8" stroke="#e67814" stroke-width="1.30"/>
<path d="M346.6 198.0 L344.4 236.0" stroke="#dcbe32" stroke-width="1.30"/>
<path d="M350.2 198.0 L347.9 237.0" stroke="#d26414" stroke-width="1.30"/>
<path d="M353.9 198.0 L351.5 237.0" stroke="#e6b41e" stroke-width="1.30"/>
<path d="M357.5 198.0 L355.2 236.0" stroke="#c85014" stroke-width="1.30"/>
<path d="M361.1 198.0 L358.9 234.5" stroke="#dc8c1e" stroke-width="1.30"/>
<path d="M364.7 198.0 L362.7 231.8" stroke="#dcc832" stroke-width="1.30"/>
<path d="M368.3 198.0 L366.5 229.0" stroke="#c8641e" stroke-width="1.30"/>
<path d="M371.9 198.0 L370.3 225.5" stroke="#dc9628" stroke-width="1.30"/>
<path d="M375.5 198.0 L374.2 221.0" stroke="#b4d232" stroke-width="1.30"/>
<path d="M379.2 198.0 L378.0 216.5" stroke="#c8781e" stroke-width="1.30"/>
<path d="M382.8 198.0 L381.9 211.8" stroke="#aab4be" stroke-width="1.30"/>
<path d="M386.4 198.0 L385.9 206.5" stroke="#a0aac8" stroke-width="1.30"/>
<path d="M390.0 198.0 L390.0 198.0" stroke="#8c78d2" stroke-width="1.30"/>
</g>
<path d="M313.9 205.3 L314.7 208.1 L315.8 205.4 Z" fill="rgb(94,183,167)"/>
<path d="M316.1 208.8 L317.0 212.2 L318.3 208.9 Z" fill="rgb(81,190,151)"/>
<path d="M318.1 212.3 L319.1 216.1 L320.6 212.4 Z" fill="rgb(80,192,129)"/>
<path d="M320.0 215.5 L321.2 219.8 L322.9 215.6 Z" fill="rgb(80,194,107)"/>
<path d="M322.2 218.3 L323.4 223.1 L325.3 218.5 Z" fill="rgb(80,196,87)"/>
<path d="M324.3 220.9 L325.7 226.0 L327.6 221.1 Z" fill="rgb(80,197,68)"/>
<path d="M326.4 223.2 L327.9 228.6 L330.0 223.4 Z" fill="rgb(80,199,51)"/>
<path d="M328.6 225.1 L330.1 230.8 L332.3 225.3 Z" fill="rgb(87,200,39)"/>
<path d="M330.8 226.8 L332.4 232.7 L334.7 227.0 Z" fill="rgb(108,200,35)"/>
<path d="M333.0 228.2 L334.6 234.3 L337.0 228.4 Z" fill="rgb(128,200,31)"/>
<path d="M335.1 229.4 L336.8 235.7 L339.2 229.7 Z" fill="rgb(147,200,28)"/>
<path d="M337.2 230.5 L338.9 237.0 L341.4 230.8 Z" fill="rgb(165,200,25)"/>
<path d="M339.3 231.4 L341.0 238.0 L343.5 231.7 Z" fill="rgb(182,200,22)"/>
<path d="M341.3 232.2 L343.1 238.8 L345.6 232.5 Z" fill="rgb(193,199,19)"/>
<path d="M343.3 232.9 L345.1 239.6 L347.7 233.2 Z" fill="rgb(198,197,18)"/>
<path d="M345.4 233.4 L347.2 240.1 L349.7 233.7 Z" fill="rgb(203,194,16)"/>
<path d="M347.4 233.6 L349.2 240.3 L351.8 233.8 Z" fill="rgb(209,192,15)"/>
<path d="M349.5 233.4 L351.3 240.1 L353.9 233.7 Z" fill="rgb(214,190,13)"/>
<path d="M351.5 233.0 L353.3 239.7 L355.9 233.3 Z" fill="rgb(219,187,12)"/>
<path d="M353.5 232.4 L355.3 239.1 L357.9 232.7 Z" fill="rgb(225,185,10)"/>
<path d="M355.5 231.7 L357.3 238.3 L359.8 231.9 Z" fill="rgb(210,187,14)"/>
<path d="M357.5 230.7 L359.2 237.2 L361.7 230.9 Z" fill="rgb(194,189,18)"/>
<path d="M359.4 229.5 L361.1 235.9 L363.6 229.7 Z" fill="rgb(176,191,23)"/>
<path d="M361.3 228.2 L363.0 234.5 L365.4 228.4 Z" fill="rgb(158,194,27)"/>
<path d="M363.3 226.8 L365.0 232.9 L367.3 227.1 Z" fill="rgb(140,196,32)"/>
<path d="M365.4 225.3 L367.0 231.2 L369.3 225.5 Z" fill="rgb(120,199,37)"/>
<path d="M367.5 223.6 L369.0 229.3 L371.2 223.8 Z" fill="rgb(108,199,47)"/>
<path d="M369.6 221.7 L371.0 227.1 L373.1 221.9 Z" fill="rgb(104,198,60)"/>
<path d="M371.6 219.5 L373.0 224.6 L375.0 219.7 Z" fill="rgb(100,197,75)"/>
<path d="M373.9 217.1 L375.1 221.9 L377.0 217.3 Z" fill="rgb(96,195,91)"/>
<path d="M376.3 214.7 L377.4 219.1 L379.1 214.8 Z" fill="rgb(92,194,107)"/>
<path d="M378.8 212.0 L379.9 216.0 L381.4 212.2 Z" fill="rgb(87,192,125)"/>
<path d="M381.4 209.2 L382.4 212.7 L383.7 209.3 Z" fill="rgb(82,191,144)"/>
<path d="M384.1 206.0 L384.9 209.1 L386.1 206.1 Z" fill="rgb(89,186,161)"/>
<path d="M386.6 202.6 L387.3 205.2 L388.3 202.7 Z" fill="rgb(101,179,177)"/>
<polygon points="322.5,245.6 322.5,246.3 322.6,247.3 322.6,248.5 322.6,249.7 322.6,251.1 322.7,252.5 322.8,254.0 323.0,255.4 323.2,256.8 323.5,258.0 323.9,259.2 324.4,260.3 325.0,261.5 325.7,262.6 326.4,263.8 327.1,264.9 327.8,266.0 328.5,267.0 329.1,268.0 329.7,269.0 330.2,269.9 330.7,270.8 331.2,271.6 331.6,272.4 332.1,273.1 332.5,273.9 333.0,274.6 333.5,275.4 334.0,276.2 334.5,277.0 335.1,277.9 335.7,278.8 336.3,279.7 337.0,280.6 337.6,281.5 338.3,282.4 339.0,283.3 339.6,284.2 340.3,285.1 341.0,286.0 341.7,286.9 342.4,287.7 343.1,288.6 343.8,289.4 344.5,290.3 345.2,291.1 345.9,291.9 346.6,292.6 347.3,293.3 348.0,294.0 348.7,294.6 349.4,295.2 350.2,295.7 350.9,296.1 351.7,296.6 352.4,297.0 353.1,297.4 353.8,297.8 354.4,298.1 355.0,298.5 355.6,298.9 356.1,299.2 356.5,299.6 357.0,300.0 357.4,300.3 357.8,300.6 358.2,300.8 358.6,300.9 359.1,301.0 359.5,301.0 359.9,300.9 360.4,300.7 360.8,300.4 361.3,300.0 361.7,299.6 362.2,299.1 362.6,298.6 363.1,298.1 363.5,297.6 364.0,297.0 364.5,296.4 365.0,295.8 365.5,295.2 366.0,294.5 366.5,293.8 367.0,293.1 367.5,292.3 368.0,291.6 368.5,290.8 369.0,290.0 369.5,289.2 369.9,288.3 370.4,287.4 370.9,286.5 371.3,285.6 371.8,284.7 372.2,283.8 372.6,282.8 373.1,281.9 373.5,281.0 373.9,280.1 374.3,279.2 374.8,278.3 375.2,277.4 375.6,276.6 376.0,275.7 376.4,274.8 376.8,273.9 377.1,272.9 377.5,272.0 377.8,271.0 378.2,270.1 378.5,269.1 378.8,268.2 379.1,267.2 379.4,266.2 379.7,265.2 380.0,264.1 380.2,263.1 380.5,262.0 380.8,260.9 381.0,259.7 381.3,258.5 381.5,257.3 381.7,256.1 382.0,254.9 382.2,253.6 382.4,252.4 382.6,251.2 382.8,250.0 383.0,248.8 383.2,247.5 383.4,246.2 383.5,244.8 383.7,243.5 383.8,242.2 384.0,241.1 384.1,240.1 384.2,239.2 384.3,238.5" fill="#e03010" fill-opacity="0.30"/>
<g opacity="0.85">
<path d="M323.6 245.4 L323.1 256.1" stroke="#50b4e6" stroke-width="1.80"/>
<path d="M326.8 245.0 L325.9 263.3" stroke="#6ec832" stroke-width="1.80"/>
<path d="M330.0 244.6 L328.9 267.9" stroke="#e66e1e" stroke-width="1.80"/>
<path d="M333.2 244.2 L331.8 272.7" stroke="#f03c14" stroke-width="1.80"/>
<path d="M336.4 243.8 L334.8 277.6" stroke="#fa1e0a" stroke-width="1.80"/>
<path d="M339.7 243.4 L337.7 281.7" stroke="#f05a14" stroke-width="1.80"/>
<path d="M342.9 243.0 L340.7 285.8" stroke="#f01e0a" stroke-width="1.80"/>
<path d="M346.1 242.6 L343.7 289.6" stroke="#fa280a" stroke-width="1.80"/>
<path d="M349.3 242.2 L346.7 293.0" stroke="#f06414" stroke-width="1.80"/>
<path d="M352.5 241.8 L349.8 295.6" stroke="#f01e0a" stroke-width="1.80"/>
<path d="M355.7 241.5 L352.9 297.5" stroke="#fa3c0a" stroke-width="1.80"/>
<path d="M358.9 241.1 L356.0 299.3" stroke="#f0821e" stroke-width="1.80"/>
<path d="M362.1 240.7 L359.1 301.2" stroke="#fa1e0a" stroke-width="1.80"/>
<path d="M365.3 240.3 L362.4 299.0" stroke="#e6c828" stroke-width="1.80"/>
<path d="M368.5 239.9 L365.8 294.9" stroke="#f03214" stroke-width="1.80"/>
<path d="M371.8 239.5 L369.2 289.7" stroke="#f05a14" stroke-width="1.80"/>
<path d="M375.0 239.1 L372.8 282.6" stroke="#dcaa28" stroke-width="1.80"/>
<path d="M378.2 238.7 L376.4 274.9" stroke="#f0280a" stroke-width="1.80"/>
<path d="M381.4 238.3 L380.1 263.5" stroke="#c8b43c" stroke-width="1.80"/>
<path d="M384.6 237.9 L384.6 238.7" stroke="#968cd2" stroke-width="1.80"/>
</g>
<path d="M325.6 262.4 L326.7 266.5 L328.3 262.6 Z" fill="rgb(90,200,58)"/>
<path d="M327.2 264.8 L328.4 269.2 L330.1 265.0 Z" fill="rgb(98,200,48)"/>
<path d="M328.6 267.2 L329.9 271.9 L331.7 267.4 Z" fill="rgb(109,200,45)"/>
<path d="M329.9 269.5 L331.3 274.5 L333.2 269.7 Z" fill="rgb(120,200,42)"/>
<path d="M331.2 271.7 L332.7 277.0 L334.7 271.9 Z" fill="rgb(131,200,40)"/>
<path d="M332.6 273.8 L334.1 279.3 L336.2 274.0 Z" fill="rgb(141,200,37)"/>
<path d="M333.9 275.8 L335.5 281.5 L337.6 275.9 Z" fill="rgb(150,200,35)"/>
<path d="M335.2 277.6 L336.8 283.5 L339.1 277.8 Z" fill="rgb(159,200,33)"/>
<path d="M336.5 279.4 L338.2 285.5 L340.5 279.6 Z" fill="rgb(168,200,30)"/>
<path d="M337.7 281.0 L339.5 287.3 L341.8 281.3 Z" fill="rgb(177,194,29)"/>
<path d="M339.0 282.6 L340.8 289.1 L343.2 282.8 Z" fill="rgb(186,186,28)"/>
<path d="M340.2 284.2 L342.0 290.7 L344.5 284.4 Z" fill="rgb(195,179,26)"/>
<path d="M341.4 285.6 L343.2 292.3 L345.8 285.8 Z" fill="rgb(203,172,25)"/>
<path d="M342.6 287.0 L344.5 293.8 L347.0 287.2 Z" fill="rgb(211,165,24)"/>
<path d="M343.7 288.3 L345.7 295.2 L348.3 288.5 Z" fill="rgb(218,159,23)"/>
<path d="M344.9 289.6 L346.9 296.5 L349.5 289.8 Z" fill="rgb(226,152,22)"/>
<path d="M346.2 290.7 L348.1 297.7 L350.8 290.9 Z" fill="rgb(233,146,21)"/>
<path d="M347.5 291.7 L349.5 298.8 L352.2 291.9 Z" fill="rgb(240,140,20)"/>
<path d="M348.8 292.6 L350.8 299.7 L353.5 292.8 Z" fill="rgb(240,132,18)"/>
<path d="M350.2 293.4 L352.2 300.6 L354.9 293.6 Z" fill="rgb(240,125,17)"/>
<path d="M351.6 294.1 L353.6 301.4 L356.3 294.4 Z" fill="rgb(240,118,16)"/>
<path d="M352.9 294.9 L355.0 302.2 L357.7 295.1 Z" fill="rgb(240,111,14)"/>
<path d="M354.2 295.8 L356.2 303.1 L359.0 296.0 Z" fill="rgb(240,104,13)"/>
<path d="M355.4 296.7 L357.4 304.0 L360.2 297.0 Z" fill="rgb(240,97,11)"/>
<path d="M356.8 297.3 L358.8 304.6 L361.6 297.5 Z" fill="rgb(240,90,10)"/>
<path d="M358.3 296.9 L360.3 304.2 L363.0 297.1 Z" fill="rgb(240,97,11)"/>
<path d="M359.4 295.9 L361.5 303.2 L364.2 296.2 Z" fill="rgb(240,103,12)"/>
<path d="M360.5 294.8 L362.5 302.1 L365.3 295.1 Z" fill="rgb(240,110,13)"/>
<path d="M361.5 293.7 L363.5 300.9 L366.3 293.9 Z" fill="rgb(240,117,14)"/>
<path d="M362.5 292.5 L364.5 299.7 L367.3 292.7 Z" fill="rgb(240,123,16)"/>
<path d="M363.5 291.3 L365.5 298.4 L368.2 291.5 Z" fill="rgb(240,130,17)"/>
<path d="M364.5 290.0 L366.5 297.1 L369.2 290.2 Z" fill="rgb(240,137,18)"/>
<path d="M365.4 288.7 L367.4 295.7 L370.1 288.9 Z" fill="rgb(240,144,19)"/>
<path d="M366.4 287.3 L368.3 294.3 L371.0 287.5 Z" fill="rgb(239,151,20)"/>
<path d="M367.3 285.9 L369.2 292.8 L371.8 286.1 Z" fill="rgb(231,157,21)"/>
<path d="M368.1 284.3 L370.0 291.2 L372.6 284.6 Z" fill="rgb(224,164,22)"/>
<path d="M369.0 282.8 L370.9 289.5 L373.4 283.0 Z" fill="rgb(216,170,23)"/>
<path d="M369.8 281.2 L371.7 287.8 L374.2 281.4 Z" fill="rgb(208,177,25)"/>
<path d="M370.7 279.5 L372.5 285.9 L375.0 279.7 Z" fill="rgb(200,184,26)"/>
<path d="M371.6 277.7 L373.4 284.1 L375.8 277.9 Z" fill="rgb(192,191,27)"/>
<path d="M372.5 275.9 L374.3 282.1 L376.6 276.1 Z" fill="rgb(183,199,28)"/>
<path d="M373.5 274.1 L375.2 280.1 L377.5 274.3 Z" fill="rgb(174,207,29)"/>
<path d="M374.5 272.1 L376.1 277.9 L378.3 272.3 Z" fill="rgb(165,209,31)"/>
<path d="M375.5 270.1 L377.0 275.6 L379.1 270.2 Z" fill="rgb(155,208,33)"/>
<path d="M376.4 267.9 L377.9 273.2 L379.9 268.1 Z" fill="rgb(145,207,35)"/>
<path d="M377.2 265.6 L378.7 270.7 L380.6 265.8 Z" fill="rgb(135,206,38)"/>
<path d="M378.1 263.2 L379.4 268.0 L381.3 263.3 Z" fill="rgb(124,205,40)"/>
<path d="M378.9 260.6 L380.1 265.2 L381.9 260.8 Z" fill="rgb(113,204,43)"/>
<path d="M379.6 258.0 L380.8 262.3 L382.4 258.1 Z" fill="rgb(102,202,45)"/>
<path d="M380.3 255.2 L381.4 259.2 L382.9 255.4 Z" fill="rgb(89,201,48)"/>
<path d="M381.0 252.4 L382.0 256.1 L383.4 252.5 Z" fill="rgb(83,198,57)"/>
<path d="M381.6 249.4 L382.5 252.8 L383.8 249.5 Z" fill="rgb(96,188,88)"/>
<path d="M382.2 246.3 L383.0 249.4 L384.2 246.4 Z" fill="rgb(110,178,119)"/>
<path d="M382.7 243.2 L383.5 246.0 L384.5 243.3 Z" fill="rgb(124,169,151)"/>
<path d="M344.9 290.0 L350.1 290.0 L347.3 296.7 Z" fill="#f07818"/>
<path d="M348.4 293.5 L353.6 293.5 L350.8 300.2 Z" fill="#f06010"/>
<path d="M351.9 296.0 L357.1 296.0 L354.3 302.7 Z" fill="#f04a10"/>
<path d="M355.4 297.5 L360.6 297.5 L357.8 304.2 Z" fill="#f03c10"/>
<path d="M358.9 296.0 L364.1 296.0 L361.3 302.7 Z" fill="#f05010"/>
<path d="M362.4 293.0 L367.6 293.0 L364.8 299.7 Z" fill="#f06a18"/>
<path d="M365.9 289.0 L371.1 289.0 L368.3 295.7 Z" fill="#f09020"/>
</g>
<text x="253.3" y="101.6" font-weight="bold" font-size="12" fill="#f2f2f2">C</text>
<text x="291.5" y="137.2" font-size="12.5" fill="#e8e8e8">I</text>
<text x="287.7" y="203.6" font-size="12.5" fill="#e8e8e8">M</text>
<text x="288.6" y="256.3" font-size="12.5" fill="#e8e8e8">O</text>
<text x="429" y="248.5" font-size="11.6" fill="#e6e6e6">Velocity (mm/s)</text>
<rect x="513.5" y="259" width="10.5" height="54" fill="url(#cbar)" stroke="#d8d8d8" stroke-width="1"/>
<text x="508.4" y="261.7" text-anchor="end" font-size="11.5" fill="#e8e8e8">80</text>
<text x="508.4" y="275.1" text-anchor="end" font-size="11.5" fill="#e8e8e8">60</text>
<text x="508.4" y="288.5" text-anchor="end" font-size="11.5" fill="#e8e8e8">40</text>
<text x="508.4" y="301.9" text-anchor="end" font-size="11.5" fill="#e8e8e8">20</text>
<text x="508.4" y="315.3" text-anchor="end" font-size="11.5" fill="#e8e8e8">0</text>
<g stroke="#c8c8c8" stroke-width="1" fill="none"><path d="M274 290 L289 296 M274 290 L259 302.5 M274 290 L277.7 304"/></g>
<path d="M285.3 293.6 L291 296.6 L284.4 296.4 Z" fill="#ff5a5a"/><path d="M262.8 299.2 L257.6 303.6 L261 300.4 L260.4 301.6 Z" fill="#40e040"/><ellipse cx="261" cy="301" rx="2.6" ry="1.7" transform="rotate(-40 261 301)" fill="#40e040"/><ellipse cx="277.6" cy="303" rx="1.6" ry="2.6" transform="rotate(-15 277.6 303)" fill="#5a5aff"/><ellipse cx="287.6" cy="295.3" rx="2.8" ry="1.6" transform="rotate(22 287.6 295.3)" fill="#ff5a5a"/>
<text x="292.5" y="298.5" font-size="6" fill="#ddd">X</text><text x="254.5" y="306.5" font-size="6" fill="#ddd">Y</text><text x="279" y="308" font-size="6" fill="#ddd">Z</text>
</svg>
</body></html>
